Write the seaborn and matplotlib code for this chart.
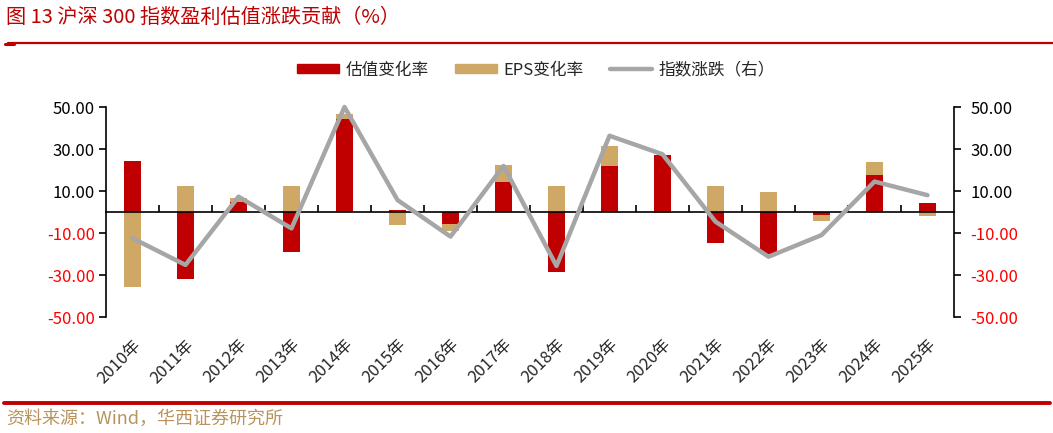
import matplotlib.pyplot as plt
import matplotlib.patches as mpatches
from matplotlib.lines import Line2D
import seaborn as sns
import pandas as pd
import numpy as np

# values (%)
years = ["2010年", "2011年", "2012年", "2013年", "2014年", "2015年", "2016年", "2017年",
         "2018年", "2019年", "2020年", "2021年", "2022年", "2023年", "2024年", "2025年"]
valuation = [24.3, -32.1, 4.9, -19.2, 44.3, 0.9, -5.6, 14.4,
             -28.4, 21.9, 27.1, -14.9, -20.2, -1.3, 17.6, 4.3]
eps = [-35.6, 12.2, 1.6, 12.2, 2.4, -6.3, -3.6, 7.8,
       12.2, 9.5, -0.6, 12.2, 9.4, -2.8, 6.2, -1.9]
index_chg = [-12.5, -25.2, 7.3, -7.8, 50.0, 5.7, -11.7, 21.9,
             -25.7, 36.3, 27.5, -4.6, -21.3, -11.0, 14.5, 8.0]
yticks = [-50, -30, -10, 10, 30, 50]

RED = "#C00000"
TAN = "#CFA866"
GREY = "#A6A6A6"
NEG = "#FF0000"

sns.set_style("white")
plt.rcParams["font.family"] = ["Noto Sans CJK SC", "DejaVu Sans"]
plt.rcParams["axes.unicode_minus"] = False

df = pd.DataFrame({"year": years, "valuation": valuation, "eps": eps, "index": index_chg})
# Excel-style stacking: EPS sits on top of valuation when both have the same sign
same = np.sign(df["valuation"]) == np.sign(df["eps"])
df["eps_top"] = np.where(same, df["valuation"] + df["eps"], df["eps"])

W, H = 1053, 433
fig = plt.figure(figsize=(W / 100, H / 100), dpi=100)
ax = fig.add_axes([106 / W, 1 - 317 / H, 848 / W, 210 / H])

sns.barplot(data=df, x="year", y="eps_top", color=TAN, width=0.31, saturation=1,
            errorbar=None, linewidth=0, ax=ax)
sns.barplot(data=df, x="year", y="valuation", color=RED, width=0.31, saturation=1,
            errorbar=None, linewidth=0, ax=ax)
ax.set_xlim(-0.5, len(years) - 0.5)
ax.set_ylim(-50, 50)
ax.set_xlabel("")
ax.set_ylabel("")

ax2 = ax.twinx()
sns.lineplot(x=np.arange(len(years)), y=df["index"], color=GREY, linewidth=3.2,
             ax=ax2, clip_on=False)
ax2.set_ylim(-50, 50)
ax2.set_ylabel("")

ylabels = [f"{v:.2f}" for v in yticks]
for a in (ax, ax2):
    a.set_yticks(yticks)
    a.set_yticklabels(ylabels, fontsize=12)
    for lab, v in zip(a.get_yticklabels(), yticks):
        lab.set_color(NEG if v < 0 else "black")
    for s in ("top", "bottom", "left", "right"):
        a.spines[s].set_visible(False)

ax.spines["left"].set_visible(True)
ax.spines["left"].set_color("black")
ax.spines["left"].set_linewidth(1.2)
ax.tick_params(axis="y", direction="out", length=5, width=1.2, color="black", pad=3, left=True)
ax2.spines["right"].set_visible(True)
ax2.spines["right"].set_color("black")
ax2.spines["right"].set_linewidth(1.2)
ax2.tick_params(axis="y", direction="out", length=5, width=1.2, color="black", pad=7, right=True)

# zero line with small upward ticks between categories
ax.spines["bottom"].set_visible(True)
ax.spines["bottom"].set_position(("data", 0))
ax.spines["bottom"].set_color("black")
ax.spines["bottom"].set_linewidth(1.2)
ax.set_xticks(np.arange(0.5, len(years) - 1, 1))
ax.set_xticklabels([])
ax.tick_params(axis="x", direction="in", length=5, width=1.2, color="black", bottom=True)

# year labels at the bottom of the plot area
sec = ax.secondary_xaxis("bottom")
sec.spines["bottom"].set_visible(False)
sec.set_xticks(np.arange(len(years)))
sec.set_xticklabels(years, rotation=45, ha="right", rotation_mode="anchor", fontsize=12)
sec.tick_params(axis="x", length=0, pad=14)

# legend
handles = [mpatches.Patch(color=RED, label="估值变化率"),
           mpatches.Patch(color=TAN, label="EPS变化率"),
           Line2D([], [], color=GREY, linewidth=3.2, label="指数涨跌（右）")]
fig.legend(handles=handles, loc="center", bbox_to_anchor=(536 / W, 1 - 70 / H), ncol=3,
           frameon=False, fontsize=12, handlelength=2.5, handleheight=0.45,
           handletextpad=0.4, columnspacing=1.6)

# title, rules and source
fig.text(6 / W, 1 - 17 / H, "图 13 沪深 300 指数盈利估值涨跌贡献（%）", color=RED,
         fontsize=14.5, ha="left", va="center")
fig.add_artist(Line2D([8 / W, 1], [1 - 43 / H] * 2, color=RED, linewidth=1.6))
fig.add_artist(Line2D([5 / W, 14 / W], [1 - 44 / H] * 2, color=RED, linewidth=2.2))
fig.add_artist(Line2D([4 / W, 1050 / W], [1 - 403 / H] * 2, color=RED, linewidth=2.8))
fig.text(6 / W, 1 - 419 / H, "资料来源：Wind，华西证券研究所", color="#B8945C",
         fontsize=13, ha="left", va="center")

fig.savefig("out.png", dpi=100)
